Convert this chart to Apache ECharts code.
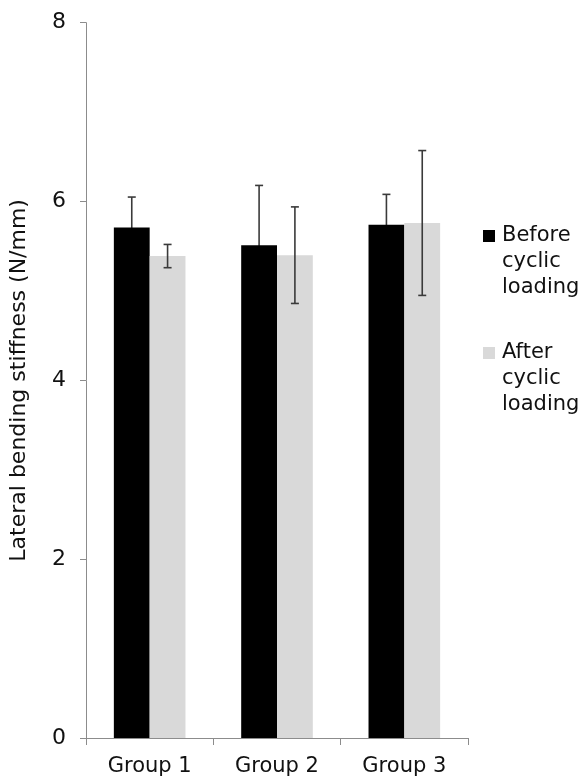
<!DOCTYPE html>
<html><head><meta charset="utf-8">
<script src="https://cdn.jsdelivr.net/npm/echarts@6/dist/echarts.min.js"></script>
<style>html,body{margin:0;padding:0;background:#fff}#c{width:583px;height:784px}</style>
</head><body><div id="c"></div>
<script>
const categories = ['Group 1', 'Group 2', 'Group 3'];
const seriesNames = ['Before cyclic loading', 'After cyclic loading'];
const beforeMean = [5.71, 5.51, 5.74];
const beforeErr = [0.34, 0.67, 0.34];
const afterMean = [5.39, 5.40, 5.76];
const afterErr = [0.13, 0.54, 0.81];
const yTicks = [0, 2, 4, 6, 8];

const gapPct = 0.4375;
const chart = echarts.init(document.getElementById('c'));
const F = 'DejaVu Sans';

function errSeries(name, mean, err, sign, z) {
  return {
    type: 'custom', name: name + ' err', z: z, silent: true,
    data: mean.map((m, i) => [i, m, err[i]]),
    renderItem: function (params, api) {
      const i = api.value(0), m = api.value(1), e = api.value(2);
      const band = api.size([1, 0])[0];
      const off = sign * band * (1 - gapPct) / 4;
      const c = api.coord([i, m]);
      const x = c[0] + off;
      const yt = api.coord([i, m + e])[1];
      const yb = api.coord([i, m - e])[1];
      const cap = 4;
      const st = { stroke: '#3a3a3a', lineWidth: 1.6 };
      return { type: 'group', children: [
        { type: 'line', shape: { x1: x, y1: yt, x2: x, y2: yb }, style: st },
        { type: 'line', shape: { x1: x - cap, y1: yt, x2: x + cap, y2: yt }, style: st },
        { type: 'line', shape: { x1: x - cap, y1: yb, x2: x + cap, y2: yb }, style: st }
      ]};
    }
  };
}

chart.setOption({
  animation: false,
  backgroundColor: '#fff',
  grid: { left: 83, right: 115, top: 22.7, bottom: 46 },
  legend: {
    orient: 'vertical', left: 473, top: 218,
    icon: 'none', itemWidth: 0, itemHeight: 10, itemGap: 39,
    data: seriesNames,
    formatter: function (n) {
      const w = n.split(' ');
      const sq = n === seriesNames[0] ? 'a' : 'b';
      return '{' + sq + '| }{t|' + w[0] + '}\n{p| }{t|' + w[1] + '}\n{p| }{t|' + w[2] + '}';
    },
    textStyle: {
      fontFamily: F, fontSize: 21, color: '#111', lineHeight: 26,
      rich: {
        a: { width: 12, height: 12, backgroundColor: '#000', lineHeight: 26 },
        b: { width: 12, height: 12, backgroundColor: '#d9d9d9', lineHeight: 26 },
        p: { width: 12, lineHeight: 26 },
        t: { fontFamily: F, fontSize: 21, color: '#111', lineHeight: 26, padding: [0, 0, 0, 7] }
      }
    }
  },
  xAxis: {
    type: 'category', data: categories,
    axisLine: { lineStyle: { color: '#8c8c8c', width: 1 } },
    axisTick: { show: true, length: 7, lineStyle: { color: '#8c8c8c' } },
    axisLabel: { fontFamily: F, fontSize: 21, color: '#111', margin: 18 }
  },
  yAxis: {
    type: 'value', min: 0, max: 8, interval: 2,
    name: 'Lateral bending stiffness (N/mm)', nameLocation: 'middle', nameGap: 56,
    nameTextStyle: { fontFamily: F, fontSize: 22, color: '#111' },
    axisLine: { show: true, lineStyle: { color: '#8c8c8c', width: 1 } },
    axisTick: { show: true, length: 6, lineStyle: { color: '#8c8c8c' } },
    splitLine: { show: false },
    axisLabel: { fontFamily: F, fontSize: 22, color: '#111', margin: 20,
      formatter: v => yTicks.includes(v) ? String(v) : '' }
  },
  series: [
    { type: 'bar', name: seriesNames[0], data: beforeMean, barGap: '0%', barCategoryGap: (gapPct * 100) + '%',
      itemStyle: { color: '#000' }, z: 2 },
    { type: 'bar', name: seriesNames[1], data: afterMean, barGap: '0%', barCategoryGap: (gapPct * 100) + '%',
      itemStyle: { color: '#d9d9d9' }, z: 2 },
    errSeries('Before', beforeMean, beforeErr, -1, 1),
    errSeries('After', afterMean, afterErr, 1, 5)
  ]
});
</script></body></html>
